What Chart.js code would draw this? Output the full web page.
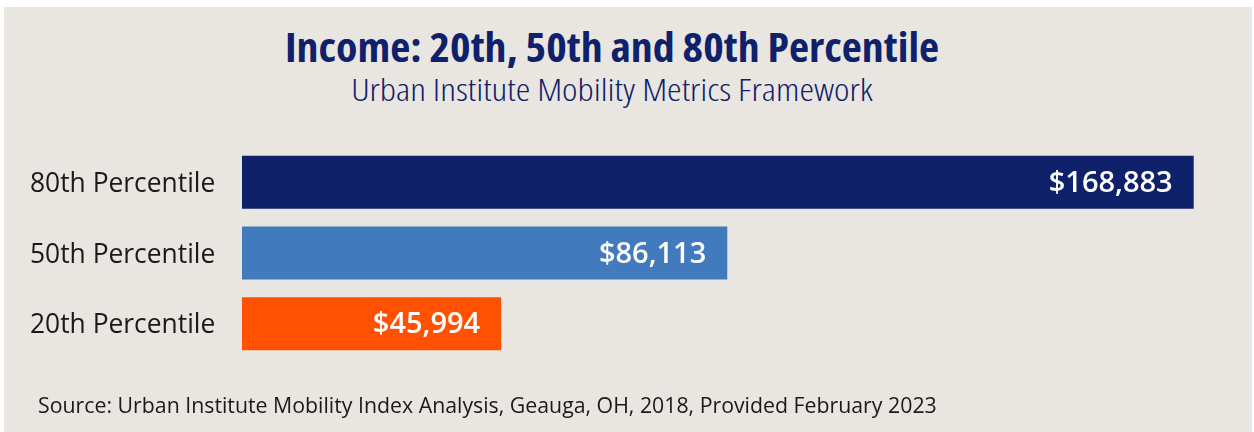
<!DOCTYPE html>
<html>
<head>
<meta charset="utf-8">
<script src="https://cdn.jsdelivr.net/npm/chart.js@4.4.1/dist/chart.umd.min.js"></script>
<style>
  html, body { margin: 0; padding: 0; background: #ffffff; }
  #wrap { position: relative; width: 1254px; height: 432px; overflow: hidden; }
  #panel { position: absolute; left: 4px; top: 7px; right: 2px; bottom: 0; background: #e9e6e1; }
  #chart { position: absolute; left: 0; top: 0; }
  .title { position: absolute; left: 0; width: 1224px; text-align: center; color: #0f216b;
           font-family: 'Open Sans', sans-serif; font-stretch: 75%; white-space: nowrap;
           transform-origin: 612px 0; }
  #t1 { top: 18px; font-size: 41px; font-weight: 700; transform: scaleX(1.07); }
  #t2 { top: 68px; font-size: 31px; font-weight: 300; transform: scaleX(1.19); }
  #src { position: absolute; left: 38px; top: 390px; font-family: 'Open Sans', sans-serif;
         font-size: 21.3px; color: #1a1a1a; white-space: nowrap; }
</style>
</head>
<body>
<div id="wrap">
  <div id="panel"></div>
  <div class="title" id="t1">Income: 20th, 50th and 80th Percentile</div>
  <div class="title" id="t2">Urban Institute Mobility Metrics Framework</div>
  <canvas id="chart" width="1254" height="432"></canvas>
  <div id="src">Source: Urban Institute Mobility Index Analysis, Geauga, OH, 2018, Provided February 2023</div>
</div>
<script>
const categories = ['80th Percentile', '50th Percentile', '20th Percentile'];
const incomeValues = [168883, 86113, 45994];
const barColors = ['#0f216b', '#417abd', '#ff5100'];

const valueLabels = {
  id: 'valueLabels',
  afterDatasetsDraw(chart) {
    const ctx = chart.ctx;
    const meta = chart.getDatasetMeta(0);
    ctx.save();
    ctx.fillStyle = '#ffffff';
    ctx.font = '600 29px "Open Sans"';
    ctx.textAlign = 'right';
    ctx.textBaseline = 'middle';
    meta.data.forEach((bar, i) => {
      ctx.fillText('$' + incomeValues[i].toLocaleString('en-US'), bar.x - 21, bar.y + 1.5);
    });
    ctx.restore();
  }
};

new Chart(document.getElementById('chart'), {
  type: 'bar',
  data: {
    labels: categories,
    datasets: [{
      data: incomeValues,
      backgroundColor: barColors,
      categoryPercentage: 1,
      barPercentage: 0.75
    }]
  },
  options: {
    indexAxis: 'y',
    responsive: false,
    animation: false,
    layout: { padding: { top: 147, bottom: 73, left: 30, right: 54 } },
    plugins: { legend: { display: false }, tooltip: { enabled: false } },
    scales: {
      x: { display: false, min: 0, max: 170000 },
      y: {
        grid: { display: false },
        border: { display: false },
        afterFit(scale) { scale.width = 212; },
        ticks: {
          crossAlign: 'far',
          labelOffset: 2,
          color: '#1a1a1a',
          font: { family: 'Open Sans', size: 26.4 }
        }
      }
    }
  },
  plugins: [valueLabels]
});
</script>
</body>
</html>
